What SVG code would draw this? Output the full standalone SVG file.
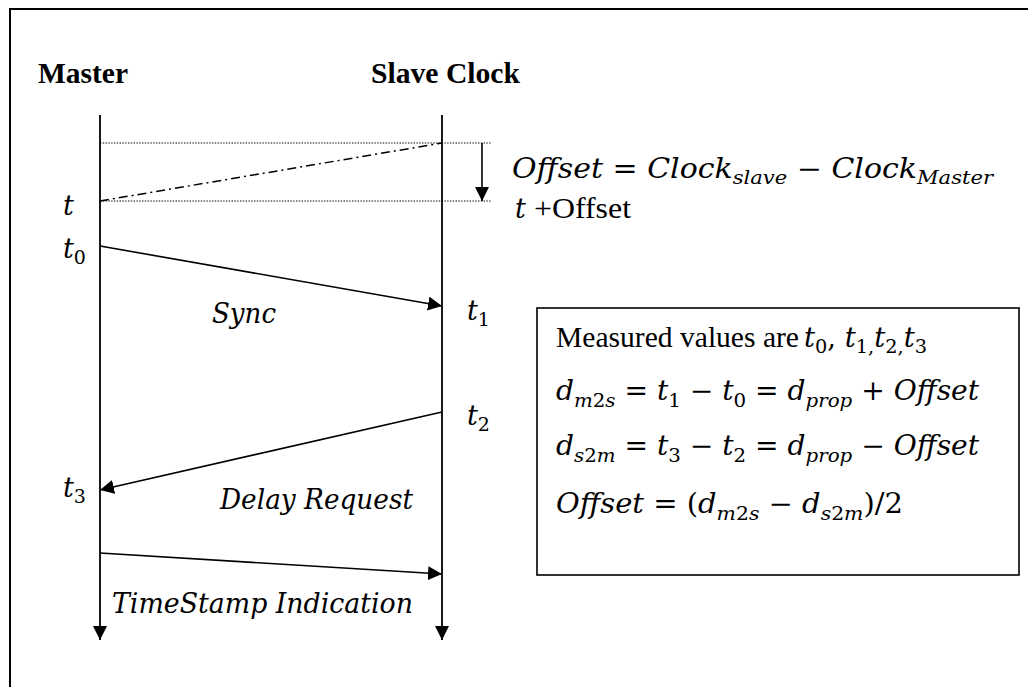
<svg xmlns="http://www.w3.org/2000/svg" width="1028" height="687" viewBox="0 0 1028 687">
  <style>
    .frame { fill: none; stroke: #000; stroke-width: 2; }
    .life { stroke: #000; stroke-width: 1.8; fill: none; }
    .msg { stroke: #000; stroke-width: 1.6; fill: none; }
    .dot { stroke: #000; stroke-width: 1; stroke-dasharray: 1.4 1.4; fill: none; }
    .dashdot { stroke: #000; stroke-width: 1.5; stroke-dasharray: 9 4 2 4; fill: none; }
    .title { font-family: "Liberation Serif", "Times New Roman", serif; font-weight: bold; font-size: 29px; fill: #000; }
    .serif { font-family: "Liberation Serif", "Times New Roman", serif; font-size: 30px; fill: #000; }
    .math { font-family: "DejaVu Serif", "Liberation Serif", serif; font-style: italic; font-size: 27px; fill: #000; }
    .up { font-style: normal; }
    .sub { font-size: 19px; }
    .box { fill: #fff; stroke: #000; stroke-width: 1.6; }
  </style>
  <defs>
    <marker id="head" markerUnits="userSpaceOnUse" markerWidth="15" markerHeight="15" refX="14" refY="7" orient="auto">
      <path d="M0,0 L14,7 L0,14 z" fill="#000"/>
    </marker>
  </defs>

  <rect width="1028" height="687" fill="#fff"/>

  <!-- outer frame (top and left edges only are visible) -->
  <g id="frame">
    <path class="frame" d="M10,687 L10,9 L1028,9"/>
  </g>

  <!-- participant: master -->
  <g id="master">
    <text class="title" x="38" y="83" textLength="90" lengthAdjust="spacingAndGlyphs">Master</text>
    <line class="life" x1="100" y1="115" x2="100" y2="640" marker-end="url(#head)"/>
    <text class="math" x="63" y="215">t</text>
    <text class="math" x="63" y="258">t<tspan class="sub up" dy="6">0</tspan></text>
    <text class="math" x="63" y="497">t<tspan class="sub up" dy="6">3</tspan></text>
  </g>

  <!-- participant: slave clock -->
  <g id="slave">
    <text class="title" x="371" y="83" textLength="149" lengthAdjust="spacingAndGlyphs">Slave Clock</text>
    <line class="life" x1="442" y1="115" x2="442" y2="640" marker-end="url(#head)"/>
    <text class="math" x="467" y="320">t<tspan class="sub up" dy="6">1</tspan></text>
    <text class="math" x="467" y="425">t<tspan class="sub up" dy="6">2</tspan></text>
  </g>

  <!-- offset annotation -->
  <g id="offset">
    <line class="dot" x1="100" y1="143" x2="492" y2="143"/>
    <line class="dot" x1="100" y1="201" x2="492" y2="201"/>
    <line class="msg" x1="482" y1="143" x2="482" y2="201" marker-end="url(#head)"/>
    <text class="math" x="512" y="178" textLength="481" lengthAdjust="spacingAndGlyphs">Offset = Clock<tspan class="sub" dy="6">slave</tspan><tspan class="up" dy="-6"> − </tspan>Clock<tspan class="sub" dy="6">Master</tspan></text>
    <text class="math" x="515" y="218">t</text>
    <text class="serif" x="534" y="218" textLength="97" lengthAdjust="spacingAndGlyphs">+Offset</text>
  </g>

  <!-- messages -->
  <g id="connectors">
    <line class="dashdot" x1="100" y1="201" x2="442" y2="143"/>
    <line class="msg" x1="100" y1="246" x2="442" y2="306" marker-end="url(#head)"/>
    <line class="msg" x1="442" y1="412" x2="100" y2="490" marker-end="url(#head)"/>
    <line class="msg" x1="100" y1="553" x2="442" y2="574" marker-end="url(#head)"/>
    <text class="math" x="212" y="323" textLength="64" lengthAdjust="spacingAndGlyphs">Sync</text>
    <text class="math" x="220" y="509" textLength="193" lengthAdjust="spacingAndGlyphs">Delay Request</text>
    <text class="math" x="112" y="613" textLength="301" lengthAdjust="spacingAndGlyphs">TimeStamp Indication</text>
  </g>

  <!-- formulas -->
  <g id="note">
    <rect class="box" x="537" y="308" width="482" height="267"/>
    <text class="serif" x="556" y="347" textLength="243" lengthAdjust="spacingAndGlyphs">Measured values are</text>
    <text class="math" x="804" y="347" textLength="123" lengthAdjust="spacingAndGlyphs">t<tspan class="sub up" dy="6">0</tspan><tspan class="up" dy="-6">, </tspan>t<tspan class="sub up" dy="6">1,</tspan><tspan dy="-6">t</tspan><tspan class="sub up" dy="6">2,</tspan><tspan dy="-6">t</tspan><tspan class="sub up" dy="6">3</tspan></text>
    <text class="math" x="556" y="400" textLength="423" lengthAdjust="spacingAndGlyphs">d<tspan class="sub" dy="7">m<tspan class="up">2</tspan>s</tspan><tspan class="up" dy="-7"> = </tspan>t<tspan class="sub up" dy="7">1</tspan><tspan class="up" dy="-7"> − </tspan>t<tspan class="sub up" dy="7">0</tspan><tspan class="up" dy="-7"> = </tspan>d<tspan class="sub" dy="7">prop</tspan><tspan class="up" dy="-7"> + </tspan>Offset</text>
    <text class="math" x="556" y="455" textLength="423" lengthAdjust="spacingAndGlyphs">d<tspan class="sub" dy="7">s<tspan class="up">2</tspan>m</tspan><tspan class="up" dy="-7"> = </tspan>t<tspan class="sub up" dy="7">3</tspan><tspan class="up" dy="-7"> − </tspan>t<tspan class="sub up" dy="7">2</tspan><tspan class="up" dy="-7"> = </tspan>d<tspan class="sub" dy="7">prop</tspan><tspan class="up" dy="-7"> − </tspan>Offset</text>
    <text class="math" x="556" y="513" textLength="347" lengthAdjust="spacingAndGlyphs">Offset<tspan class="up"> = (</tspan>d<tspan class="sub" dy="7">m<tspan class="up">2</tspan>s</tspan><tspan class="up" dy="-7"> − </tspan>d<tspan class="sub" dy="7">s<tspan class="up">2</tspan>m</tspan><tspan class="up" dy="-7">)/2</tspan></text>
  </g>
</svg>
